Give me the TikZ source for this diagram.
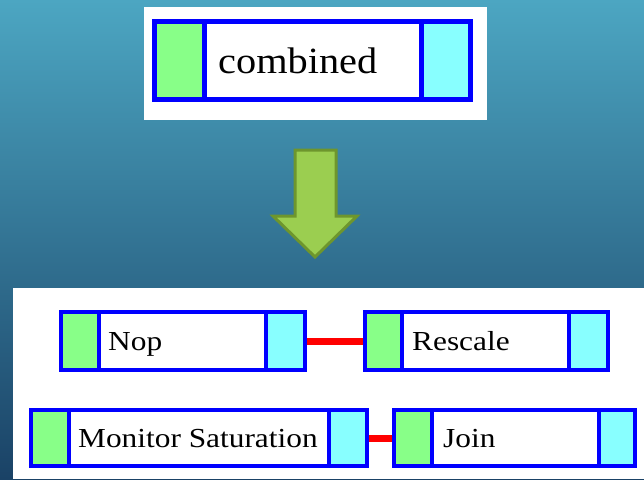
\documentclass[tikz,border=0pt]{standalone}
\usepackage{fontspec}
\setmainfont{Liberation Serif}
\usepackage{graphicx}
\definecolor{bgtop}{RGB}{76,166,194}
\definecolor{bgmid}{RGB}{47,116,150}
\definecolor{bgbot}{RGB}{26,66,102}
\definecolor{boxblue}{RGB}{0,0,255}
\definecolor{gfill}{RGB}{136,255,136}
\definecolor{cfill}{RGB}{136,255,255}
\definecolor{arrfill}{RGB}{155,206,80}
\definecolor{arredge}{RGB}{110,150,45}
\newcommand{\toptxt}[1]{\scalebox{1.09}[1]{\fontsize{37}{40}\selectfont #1}}
\newcommand{\bottxt}[1]{\scalebox{1.14}[1]{\fontsize{27.5}{30}\selectfont #1}}
\tikzset{
  panel/.style={fill=white},
  topbox/.style={draw=boxblue, line width=5, inner sep=0, rectangle},
  topdiv/.style={draw=boxblue, line width=5},
  bx/.style={draw=boxblue, line width=4, inner sep=0, rectangle},
  bxdiv/.style={draw=boxblue, line width=4},
  lbl/.style={anchor=base west, inner sep=0},
  link/.style={draw=red, line width=7},
  bigarrow/.style={fill=arrfill, draw=arredge, line width=3, line join=miter},
}
\begin{document}
\begin{tikzpicture}[x=1pt,y=-1pt]
\useasboundingbox (0,0) rectangle (644,479);
\shade[top color=bgtop, middle color=bgmid, bottom color=bgbot] (0,0) rectangle (644,479);
% panels
\fill[panel] (144,7) rectangle (487,120);
\fill[panel] (13,288) rectangle (644,479);
% top box
\fill[gfill] (152,19) rectangle (204,102);
\fill[cfill] (421,19) rectangle (473,102);
\node[topbox, minimum width=316, minimum height=78] (comb) at (312.5,60.5) {};
\draw[topdiv] (204,21) -- (204,100);
\draw[topdiv] (421,21) -- (421,100);
\node[lbl] (combtext) at (218,73) {\toptxt{combined}};
% arrow
\draw[bigarrow] (295,150) -- (336,150) -- (336,216) -- (357,216) -- (315,257) -- (273,216) -- (295,216) -- cycle;
% Nop
\fill[gfill] (59,310) rectangle (99,372);
\fill[cfill] (266,310) rectangle (307,372);
\node[bx, minimum width=244, minimum height=58] (nop) at (183,341) {};
\draw[bxdiv] (99,312) -- (99,370);
\draw[bxdiv] (266,312) -- (266,370);
\node[lbl] (noptext) at (108,350) {\bottxt{Nop}};
% Rescale
\fill[gfill] (363,310) rectangle (402,372);
\fill[cfill] (569,310) rectangle (610,372);
\node[bx, minimum width=243, minimum height=58] (resc) at (486.5,341) {};
\draw[bxdiv] (402,312) -- (402,370);
\draw[bxdiv] (569,312) -- (569,370);
\node[lbl] (resctext) at (412,350) {\bottxt{Rescale}};
% Monitor Saturation
\fill[gfill] (29,408) rectangle (69,468);
\fill[cfill] (329,408) rectangle (369,468);
\node[bx, minimum width=336, minimum height=56] (mon) at (199,438) {};
\draw[bxdiv] (69,410) -- (69,466);
\draw[bxdiv] (329,410) -- (329,466);
\node[lbl] (montext) at (78,447) {\bottxt{Monitor Saturation}};
% Join
\fill[gfill] (392,408) rectangle (432,468);
\fill[cfill] (599,408) rectangle (637,468);
\node[bx, minimum width=241, minimum height=56] (join) at (514.5,438) {};
\draw[bxdiv] (432,410) -- (432,466);
\draw[bxdiv] (599,410) -- (599,466);
\node[lbl] (jointext) at (443,447) {\bottxt{Join}};
% links
\draw[link] (nop.east) -- (resc.west);
\draw[link] (mon.east) -- (join.west);
\end{tikzpicture}
\end{document}
